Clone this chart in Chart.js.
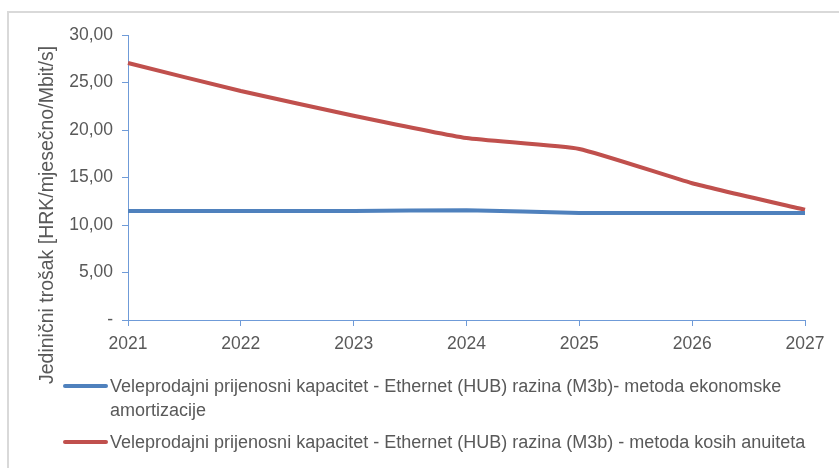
<!DOCTYPE html>
<html>
<head>
<meta charset="utf-8">
<script src="https://cdn.jsdelivr.net/npm/chart.js@4"></script>
<style>
  body { margin: 0; background: #fff; font-family: "Liberation Sans", Arial, sans-serif; }
  #wrap { position: relative; width: 839px; height: 468px; overflow: hidden; }
  #frame { position: absolute; left: 7px; top: 11px; width: 900px; height: 500px;
           border-top: 2px solid #d9d9d9; border-left: 2px solid #d9d9d9; }
  canvas { position: absolute; left: 0; top: 0; }
  .leg { position: absolute; left: 63px; width: 754px; color: #595959; font-size: 18px; line-height: 24px; }
  .leg .sym { position: absolute; left: 0; top: 10px; width: 45px; height: 4px; border-radius: 2px; }
  .leg .txt { margin-left: 47px; }
</style>
</head>
<body>
<div id="wrap">
  <div id="frame"></div>
  <canvas id="costChart" width="839" height="468"></canvas>
  <div class="leg" style="top:374px"><div class="sym" style="background:#4f81bd"></div><div class="txt" id="leg0"></div></div>
  <div class="leg" style="top:430px"><div class="sym" style="background:#c0504d"></div><div class="txt" id="leg1"></div></div>
</div>
<script>
// Podaci s grafikona
const godine = ['2021', '2022', '2023', '2024', '2025', '2026', '2027'];
const ekonomskaAmortizacija = [11.47, 11.47, 11.47, 11.55, 11.27, 11.27, 11.27];
const kosiAnuiteti = [27.05, 24.1, 21.5, 19.15, 18.0, 14.4, 11.6];
const nazivi = [
    'Veleprodajni prijenosni kapacitet - Ethernet (HUB) razina (M3b)- metoda ekonomske amortizacije',
    'Veleprodajni prijenosni kapacitet - Ethernet (HUB) razina (M3b) - metoda kosih anuiteta'
];
const naslovY = 'Jedinični trošak [HRK/mjesečno/Mbit/s]';

document.getElementById('leg0').textContent = nazivi[0];
document.getElementById('leg1').textContent = nazivi[1];

const osBoja = '#6f9bd8';
const tekstBoja = '#595959';
const font = '"Liberation Sans", Arial, sans-serif';

// naslov y osi, centriran na cijeloj visini kao u Excelu
const naslovPlugin = {
    id: 'naslovY',
    afterDraw(chart) {
        const c = chart.ctx;
        c.save();
        c.translate(48, 215);
        c.rotate(-Math.PI / 2);
        c.font = '19.5px ' + font;
        c.fillStyle = tekstBoja;
        c.textAlign = 'center';
        c.textBaseline = 'middle';
        c.fillText(naslovY, 0, 0);
        c.restore();
    }
};

const ctx = document.getElementById('costChart').getContext('2d');
const costChart = new Chart(ctx, {
    type: 'line',
    data: {
        labels: godine,
        datasets: [{
            label: nazivi[0],
            data: ekonomskaAmortizacija,
            borderColor: '#4f81bd',
            borderWidth: 4,
            pointRadius: 0,
            tension: 0.15
        }, {
            label: nazivi[1],
            data: kosiAnuiteti,
            borderColor: '#c0504d',
            borderWidth: 4,
            pointRadius: 0,
            tension: 0.15
        }]
    },
    options: {
        responsive: false,
        animation: false,
        layout: { padding: { top: 35, right: 34, left: 0, bottom: 0 } },
        plugins: {
            legend: { display: false },
            tooltip: { enabled: false }
        },
        scales: {
            x: {
                offset: false,
                grid: { drawOnChartArea: false, color: osBoja, tickLength: 6 },
                border: { color: osBoja, width: 1 },
                ticks: {
                    color: tekstBoja, padding: 8, maxRotation: 0,
                    font: { size: 17.5, family: font }
                },
                afterFit(scale) { scale.height = 148; }
            },
            y: {
                min: 0, max: 30,
                grid: { drawOnChartArea: false, color: osBoja, tickLength: 6 },
                border: { color: osBoja, width: 1 },
                ticks: {
                    stepSize: 5, color: tekstBoja, padding: 9,
                    font: { size: 17.5, family: font },
                    callback: v => v === 0 ? '-' : v.toFixed(2).replace('.', ',')
                },
                afterFit(scale) { scale.width = 128; }
            }
        }
    },
    plugins: [naslovPlugin]
});
</script>
</body>
</html>
